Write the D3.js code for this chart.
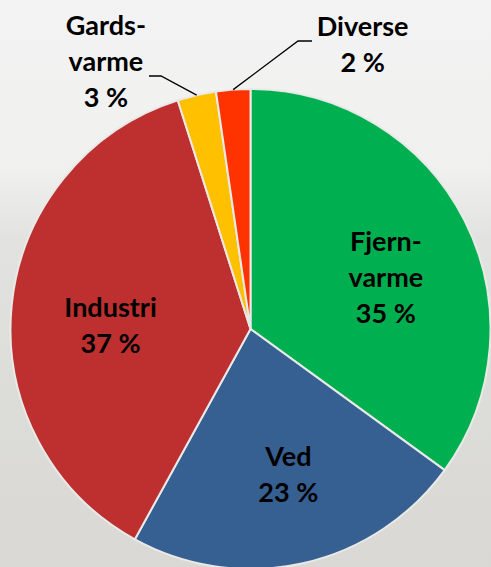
<!DOCTYPE html>
<html>
<head>
<meta charset="utf-8">
<script src="https://cdn.jsdelivr.net/npm/d3@7"></script>
<style>
  html, body { margin: 0; padding: 0; overflow: hidden; }
  #chart svg { display: block; }
</style>
</head>
<body>
<div id="chart"></div>
<script>
const width = 491;
const height = 567;

// Data (shares in %; labels show rounded values)
const categories = ["Fjernvarme", "Ved", "Industri", "Gardsvarme", "Diverse"];
const shares = [35.0, 23.0, 37.1, 2.6, 2.3];
const labelText = ["Fjern-\nvarme", "Ved", "Industri", "Gards-\nvarme", "Diverse"];
const colors = ["#00B050", "#376092", "#BE3030", "#FFC000", "#FF3300"];

// Label placement: polar angle (deg, clockwise from top) and distance from pie centre
const labelLayout = {
    Fjernvarme: { angle: 69, dist: 145 },
    Ved: { angle: 165.4, dist: 150 },
    Industri: { angle: 271.4, dist: 140 },
    Gardsvarme: { angle: 331.6, dist: 304, leader: { elbow: [161, 76], end: [149, 76] } },
    Diverse: { angle: 21.5, dist: 306, leader: { elbow: [298, 41], end: [312, 41] } },
};

const cx = 250.5;
const cy = 329;
const radius = 240;
const fontSize = 27;
const lineHeight = 36;
const capHeight = 19;

const data = categories.map((c, i) => ({ name: c, value: shares[i], label: labelText[i], color: colors[i] }));

const svg = d3
    .select("#chart")
    .append("svg")
    .attr("width", width)
    .attr("height", height);

// Background (foggy landscape feel)
const defs = svg.append("defs");
const bg = defs
    .append("linearGradient")
    .attr("id", "bg")
    .attr("x1", 0)
    .attr("y1", 0)
    .attr("x2", 0)
    .attr("y2", 1);
bg.append("stop").attr("offset", "0%").attr("stop-color", "#f3f3f3");
bg.append("stop").attr("offset", "30%").attr("stop-color", "#f0f0ef");
bg.append("stop").attr("offset", "42%").attr("stop-color", "#e2e2e0");
bg.append("stop").attr("offset", "70%").attr("stop-color", "#dcdcd8");
bg.append("stop").attr("offset", "100%").attr("stop-color", "#d9d8d4");

svg.append("rect").attr("width", width).attr("height", height).attr("fill", "url(#bg)");

const pie = d3
    .pie()
    .sort(null)
    .value((d) => d.value);

const arc = d3.arc().innerRadius(0).outerRadius(radius);

const arcs = pie(data);

const g = svg.append("g").attr("transform", `translate(${cx},${cy})`);

g.selectAll("path.slice")
    .data(arcs)
    .join("path")
    .attr("class", "slice")
    .attr("d", arc)
    .attr("fill", (d) => d.data.color)
    .attr("stroke", "#e9e9e7")
    .attr("stroke-width", 2)
    .attr("stroke-linejoin", "round");

const polar = (deg, r) => {
    const a = (deg * Math.PI) / 180;
    return [r * Math.sin(a), -r * Math.cos(a)];
};

// Leader lines for the small slices
const leaders = arcs.filter((d) => labelLayout[d.data.name].leader);
g.selectAll("path.leader")
    .data(leaders)
    .join("path")
    .attr("class", "leader")
    .attr("fill", "none")
    .attr("stroke", "#000")
    .attr("stroke-width", 1.3)
    .attr("d", (d) => {
        const mid = (d.startAngle + d.endAngle) / 2;
        const start = [radius * Math.sin(mid), -radius * Math.cos(mid)];
        const L = labelLayout[d.data.name].leader;
        const elbow = [L.elbow[0] - cx, L.elbow[1] - cy];
        const end = [L.end[0] - cx, L.end[1] - cy];
        return d3.line()([start, elbow, end]);
    });

// Labels
g.selectAll("text.label")
    .data(arcs)
    .join("text")
    .attr("class", "label")
    .attr("text-anchor", "middle")
    .attr("font-family", "Lato, 'Open Sans', sans-serif")
    .attr("font-weight", 700)
    .attr("font-size", fontSize)
    .attr("fill", "#000")
    .each(function (d) {
        const lay = labelLayout[d.data.name];
        const [x, y] = polar(lay.angle, lay.dist);
        const lines = d.data.label.split("\n").concat([`${Math.round(d.data.value)} %`]);
        const firstBase = y - ((lines.length - 1) * lineHeight) / 2 + capHeight / 2;
        d3.select(this)
            .selectAll("tspan")
            .data(lines)
            .join("tspan")
            .attr("x", x)
            .attr("y", (t, i) => firstBase + i * lineHeight)
            .text((t) => t);
    });
</script>
</body>
</html>
